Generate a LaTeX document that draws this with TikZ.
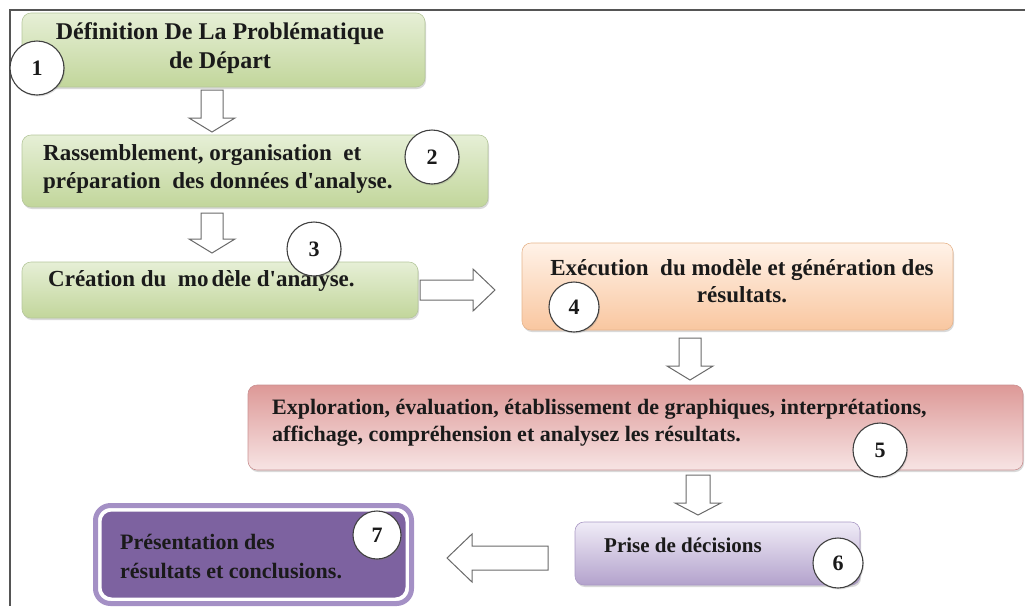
\documentclass[tikz,border=0pt]{standalone}
\usepackage{fontspec}
\setmainfont{Liberation Serif}[Ligatures=TeXOff]
\usetikzlibrary{shadows}
\definecolor{grtop}{HTML}{E6EFD6}
\definecolor{grbot}{HTML}{C2D69B}
\definecolor{grline}{HTML}{B5C79B}
\definecolor{ortop}{HTML}{FFF2E8}
\definecolor{orbot}{HTML}{F9C7A0}
\definecolor{orline}{HTML}{E6B48C}
\definecolor{rdtop}{HTML}{DD9997}
\definecolor{rdbot}{HTML}{F7E4E4}
\definecolor{rdline}{HTML}{C99091}
\definecolor{pptop}{HTML}{F0ECF7}
\definecolor{ppbot}{HTML}{B3A2CC}
\definecolor{ppline}{HTML}{A998C4}
\definecolor{ppdark}{HTML}{7D62A0}
\definecolor{pplav}{HTML}{A490C5}
\definecolor{framec}{HTML}{555555}
\definecolor{arrowc}{HTML}{6A6A6A}
\definecolor{txtc}{HTML}{1A1A1A}
\tikzset{
  box/.style={rectangle, rounded corners=9pt, inner sep=0pt, line width=0.6pt,
    drop shadow={shadow xshift=1pt, shadow yshift=-2pt, opacity=0.3, fill=gray}},
  greenbox/.style={box, draw=grline, top color=grtop, bottom color=grbot},
  orangebox/.style={box, draw=orline, top color=ortop, bottom color=orbot},
  redbox/.style={box, draw=rdline, top color=rdtop, bottom color=rdbot},
  purplebox/.style={box, draw=ppline, top color=pptop, bottom color=ppbot},
  numc/.style={circle, draw=black!75, line width=1.1pt, fill=white, inner sep=0pt,
    font=\bfseries\fontsize{22}{22}\selectfont, text=txtc,
    drop shadow={shadow xshift=1pt, shadow yshift=-1.5pt, opacity=0.25, fill=gray}},
  txt/.style={inner sep=0pt, text=txtc, font=\bfseries\fontsize{23}{28}\selectfont},
  blockarrow/.style={draw=arrowc, fill=white, line width=1pt, line join=miter},
}
% down block arrow: cx, y0, y1, shaft half width, head half width, head length
\newcommand\blkdown[6]{%
  \draw[blockarrow] ({#1-#4},#2) -- ({#1+#4},#2) -- ({#1+#4},{#3-#6}) -- ({#1+#5},{#3-#6})
    -- (#1,#3) -- ({#1-#5},{#3-#6}) -- ({#1-#4},{#3-#6}) -- cycle;}
% horizontal block arrow: cy, x0, x1, shaft half width, head half width, signed head length
\newcommand\blkhoriz[6]{%
  \draw[blockarrow] (#2,{#1-#4}) -- (#2,{#1+#4}) -- ({#3-#6},{#1+#4}) -- ({#3-#6},{#1+#5})
    -- (#3,#1) -- ({#3-#6},{#1-#5}) -- ({#3-#6},{#1-#4}) -- cycle;}
\begin{document}
\begin{tikzpicture}[x=1pt,y=-1pt]
\useasboundingbox (0,0) rectangle (1025,606);
% frame
\draw[framec, line width=1.5pt] (1025,10) -- (10,10) -- (10,606);

% boxes
\node[greenbox, minimum width=403pt, minimum height=74pt] (b1) at (223.5,50) {};
\node[greenbox, minimum width=466pt, minimum height=72pt] (b2) at (255,171) {};
\node[greenbox, minimum width=396pt, minimum height=56pt] (b3) at (220,290) {};
\node[orangebox, minimum width=431pt, minimum height=87pt] (b4) at (737.5,286.5) {};
\node[redbox, minimum width=775pt, minimum height=85pt] (b5) at (635.5,427.5) {};
\node[purplebox, minimum width=285pt, minimum height=63pt] (b6) at (717.5,553.5) {};
\draw[pplav, line width=5pt, rounded corners=15pt] (95.5,505.5) rectangle (411.5,603.5);
\node[rectangle, rounded corners=11pt, fill=ppdark, draw=white, line width=2pt,
  minimum width=306pt, minimum height=88pt, inner sep=0pt] (b7) at (253.5,554.5) {};

% texts
\node[txt, font=\bfseries\fontsize{24}{29}\selectfont, align=center] (t1) at (220,48)
  {Définition De La Problématique\\de Départ};
\node[txt, align=left, anchor=west] (t2) at (43,169)
  {Rassemblement, organisation\ \ et\\préparation\ \ des données d'analyse.};
\node[txt, anchor=west] (t3) at (48,281) {Création du\ \ mo\kern3pt dèle d'analyse.};
\node[txt, font=\bfseries\fontsize{23}{27}\selectfont, align=center] (t4) at (742,281)
  {Exécution\ \ du modèle et génération des\\résultats.};
\node[txt, font=\bfseries\fontsize{22}{27}\selectfont, align=left, anchor=west] (t5) at (272,423)
  {Exploration, évaluation, établissement de graphiques, interprétations,\\affichage, compréhension et analysez les résultats.};
\node[txt, font=\bfseries\fontsize{21}{28}\selectfont, anchor=west] (t6) at (604,545) {Prise de décisions};
\node[txt, font=\bfseries\fontsize{22}{29}\selectfont, align=left, anchor=west] (t7) at (120,557)
  {Présentation des\\résultats et conclusions.};

% number circles
\node[numc, minimum size=54pt] (c1) at (37,68) {1};
\node[numc, minimum size=54pt] (c2) at (432,157) {2};
\node[numc, minimum size=54pt] (c3) at (314,249) {3};
\node[numc, minimum size=50pt] (c4) at (574,307) {4};
\node[numc, minimum size=54pt] (c5) at (880,450) {5};
\node[numc, minimum size=50pt] (c6) at (838,563) {6};
\node[numc, minimum size=48pt] (c7) at (377,535) {7};

% block arrows
\blkdown{212}{90}{132}{11}{23}{14}
\blkdown{212}{213}{253}{11}{23}{14}
\blkhoriz{290}{420}{495}{10}{21}{22}
\blkdown{690}{338}{380}{11}{23}{14}
\blkdown{698}{475}{515}{12}{23}{12}
\blkhoriz{558}{548}{447}{12}{24}{-25}
\end{tikzpicture}
\end{document}
